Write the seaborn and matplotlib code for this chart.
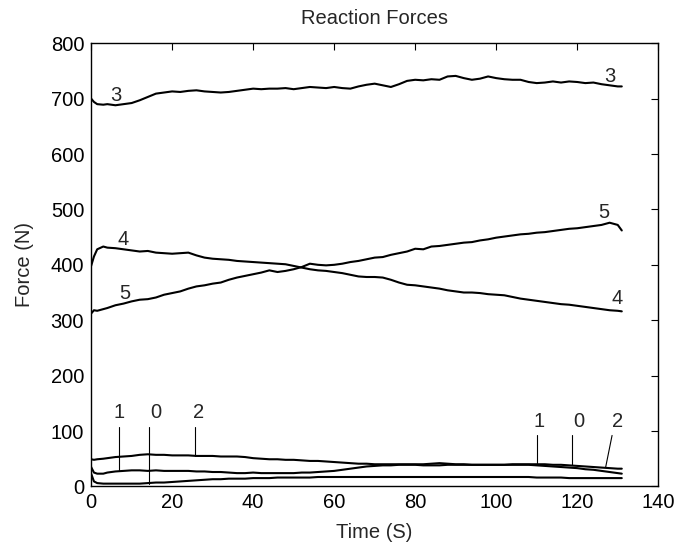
import matplotlib
matplotlib.use("Agg")
import matplotlib.pyplot as plt
import pandas as pd
import seaborn as sns

# time axis (s): a few early samples, then every 2 s
t = [0, 0.7, 1.5, 3] + list(range(4, 131, 2)) + [131]

# reaction forces (N)
f3 = [700, 694, 690, 689,
      690, 688, 690, 692, 697, 703, 709, 711, 713, 712,
      714, 715, 713, 712, 711, 712, 714, 716, 718, 717,
      718, 718, 719, 717, 719, 721, 720, 719, 721, 719,
      718, 722, 725, 727, 724, 721, 726, 732, 734, 733,
      735, 734, 740, 741, 737, 734, 736, 740, 737, 735,
      734, 734, 730, 728, 729, 731, 729, 731, 730, 728,
      729, 726, 724, 722, 722]
f4 = [398, 415, 428, 433,
      431, 430, 428, 426, 424, 425, 422, 421, 420, 421,
      422, 417, 413, 411, 410, 409, 407, 406, 405, 404,
      403, 402, 401, 398, 395, 392, 390, 389, 387, 385,
      382, 379, 378, 378, 377, 373, 368, 364, 363, 361,
      359, 357, 354, 352, 350, 350, 349, 347, 346, 345,
      342, 339, 337, 335, 333, 331, 329, 328, 326, 324,
      322, 320, 318, 317, 316]
f5 = [312, 318, 317, 320,
      322, 327, 330, 334, 337, 338, 341, 346, 349, 352,
      357, 361, 363, 366, 368, 373, 377, 380, 383, 386,
      390, 387, 389, 392, 396, 402, 400, 399, 400, 402,
      405, 407, 410, 413, 414, 418, 421, 424, 429, 428,
      433, 434, 436, 438, 440, 441, 444, 446, 449, 451,
      453, 455, 456, 458, 459, 461, 463, 465, 466, 468,
      470, 472, 476, 472, 462]
f2 = [49, 48, 49, 50,
      51, 53, 54, 55, 57, 58, 57, 57, 56, 56,
      56, 55, 55, 55, 54, 54, 54, 53, 51, 50,
      49, 49, 48, 48, 47, 46, 46, 45, 44, 43,
      42, 41, 41, 40, 40, 40, 40, 40, 40, 40,
      41, 42, 41, 40, 40, 39, 39, 39, 39, 39,
      40, 40, 40, 40, 40, 39, 39, 38, 37, 36,
      35, 34, 33, 32, 32]
f1 = [35, 25, 23, 23,
      25, 27, 28, 29, 29, 28, 29, 28, 28, 28,
      28, 27, 27, 26, 26, 25, 24, 24, 25, 24,
      24, 24, 24, 24, 25, 25, 26, 27, 28, 30,
      32, 34, 36, 37, 38, 38, 39, 39, 39, 38,
      38, 38, 39, 39, 39, 39, 39, 39, 39, 39,
      39, 39, 39, 38, 37, 36, 35, 34, 33, 31,
      30, 28, 26, 24, 23]
f0 = [23, 9, 6, 5,
      5, 5, 5, 5, 5, 6, 7, 7, 8, 9,
      10, 11, 12, 13, 13, 14, 14, 14, 15, 15,
      15, 16, 16, 16, 16, 16, 17, 17, 17, 17,
      17, 17, 17, 17, 17, 17, 17, 17, 17, 17,
      17, 17, 17, 17, 17, 17, 17, 17, 17, 17,
      17, 17, 17, 16, 16, 16, 16, 15, 15, 15,
      15, 15, 15, 15, 15]

series = {"0": f0, "1": f1, "2": f2, "3": f3, "4": f4, "5": f5}

# curve labels: (text, time, force)
labels = [("3", 6.1, 705), ("3", 128.1, 740),
          ("4", 7.9, 445), ("4", 129.9, 340),
          ("5", 8.4, 349), ("5", 126.5, 494)]
# labels with leader lines: (text, text_t, text_f, line_t0, line_f0, line_t1, line_f1)
leaders = [("1", 7.0, 133, 7.0, 107, 7.0, 29),
           ("0", 16.0, 133, 14.4, 107, 14.4, 5),
           ("2", 26.4, 133, 25.7, 107, 25.7, 55),
           ("1", 110.6, 117, 110.0, 92, 110.0, 42),
           ("0", 120.5, 117, 118.8, 92, 118.8, 38),
           ("2", 130.0, 117, 128.6, 92, 127.0, 34)]

df = pd.concat([pd.DataFrame({"Time": t, "Force": v, "id": k})
                for k, v in series.items()], ignore_index=True)

sns.set_style("white")
plt.rcParams["font.family"] = ["Liberation Sans", "DejaVu Sans"]

fig = plt.figure(figsize=(6.8, 5.54), dpi=100)
ax = fig.add_axes([0.134, 0.122, 0.834, 0.800])

sns.lineplot(data=df, x="Time", y="Force", hue="id", units="id", estimator=None,
             palette={k: "black" for k in series}, legend=False, lw=1.5, ax=ax)

fs = 14.5
for txt, x, y in labels:
    ax.text(x, y, txt, ha="center", va="center", fontsize=fs)
for txt, tx, ty, x0, y0, x1, y1 in leaders:
    ax.text(tx, ty, txt, ha="center", va="center", fontsize=fs)
    ax.plot([x0, x1], [y0, y1], color="black", lw=0.8)

ax.set_xlim(0, 140)
ax.set_ylim(0, 800)
ax.set_xticks(range(0, 141, 20))
ax.set_yticks(range(0, 801, 100))
ax.tick_params(direction="in", top=True, right=True, length=5, width=0.8,
               labelsize=fs, colors="black", pad=5)
for s in ax.spines.values():
    s.set_visible(True)
    s.set_color("black")
    s.set_linewidth(1.0)
ax.set_xlabel("Time (S)", fontsize=fs, labelpad=8)
ax.set_ylabel("Force (N)", fontsize=fs, labelpad=12)
ax.set_title("Reaction Forces", fontsize=fs, pad=14)

fig.savefig("out.png", dpi=100)
